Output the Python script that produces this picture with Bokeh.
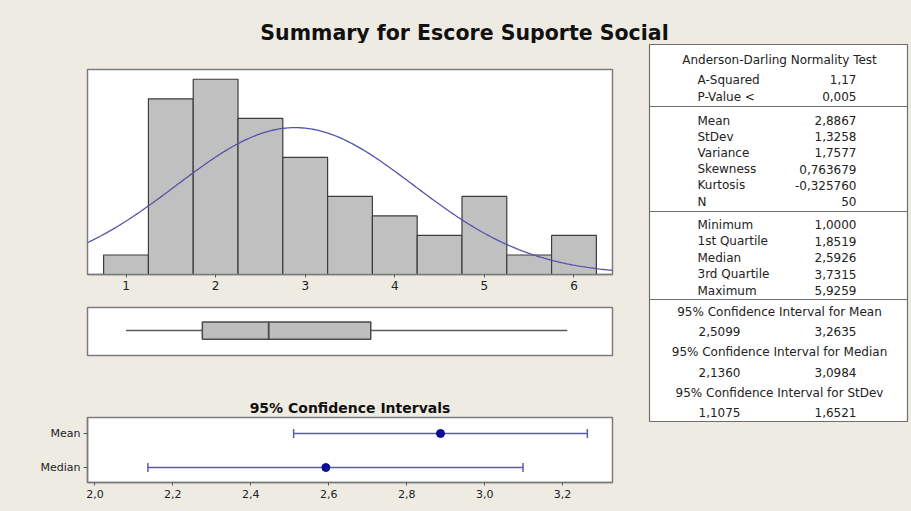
import numpy as np
from bokeh.plotting import figure
from bokeh.layouts import column, row
from bokeh.models import (Range1d, FixedTicker, CustomJSTickFormatter, ColumnDataSource,
                          Whisker, TeeHead, Span)
from bokeh.embed import file_html
from bokeh.resources import INLINE
from bokeh.core.properties import value

# ---------------- data ----------------
title_text = "Summary for Escore Suporte Social"
bin_centers = [1.0, 1.5, 2.0, 2.5, 3.0, 3.5, 4.0, 4.5, 5.0, 5.5, 6.0]
bin_counts = [1, 9, 10, 8, 6, 4, 3, 2, 4, 1, 2]
bin_width = 0.5
hist_ticks = [1, 2, 3, 4, 5, 6]

n_obs = 50
mean_val = 2.8867
sd_val = 1.3258
minimum = 1.0
q1 = 1.8519
median_val = 2.5926
q3 = 3.7315
maximum = 5.9259

ad_title = "Anderson-Darling Normality Test"
ad_labels = ["A-Squared", "P-Value <"]
ad_values = [1.17, 0.005]
ad_decimals = [2, 3]

moment_labels = ["Mean", "StDev", "Variance", "Skewness", "Kurtosis", "N"]
moment_values = [2.8867, 1.3258, 1.7577, 0.763679, -0.325760, 50]
moment_decimals = [4, 4, 4, 6, 6, 0]

quant_labels = ["Minimum", "1st Quartile", "Median", "3rd Quartile", "Maximum"]
quant_values = [minimum, q1, median_val, q3, maximum]

ci_titles = ["95% Confidence Interval for Mean",
             "95% Confidence Interval for Median",
             "95% Confidence Interval for StDev"]
ci_lower = [2.5099, 2.1360, 1.1075]
ci_upper = [3.2635, 3.0984, 1.6521]

ci_plot_title = "95% Confidence Intervals"
ci_plot_labels = ["Mean", "Median"]
ci_plot_points = [mean_val, median_val]
ci_ticks = [2.0, 2.2, 2.4, 2.6, 2.8, 3.0, 3.2]

# ---------------- styles ----------------
BG = "#EEEBE2"
FRAME = "#7c7c7c"
BAR_FILL = "#C0C0C0"
BAR_LINE = "#3c3c3c"
CURVE = "#5353AA"
CI_LINE = "#5B5BA8"
CI_DOT = "#0A0A96"
TXT = "#222222"
FONT = "DejaVu Sans"
CSS_BG = {"background-color": BG}


def fmt(v, d):
    return f"{v:.{d}f}".replace(".", ",")


def blank(fig):
    fig.xgrid.visible = False
    fig.ygrid.visible = False
    fig.background_fill_color = "white"
    fig.border_fill_color = BG
    fig.outline_line_color = FRAME
    fig.outline_line_width = 1.5
    fig.styles = CSS_BG


def style_axis(ax, size):
    ax.axis_line_color = FRAME
    ax.axis_line_width = 1.5
    ax.major_tick_line_color = "#555555"
    ax.major_tick_in = 0
    ax.major_tick_out = 3
    ax.minor_tick_line_color = None
    ax.major_label_text_font = FONT
    ax.major_label_text_font_size = size
    ax.major_label_text_color = TXT
    ax.major_label_standoff = 3


x_lo, x_hi = 0.57, 6.43

# ---------------- title ----------------
tf = figure(width=911, height=43, x_range=Range1d(0, 911), y_range=Range1d(0, 43),
            x_axis_type=None, y_axis_type=None, min_border=0,
            output_backend="svg", toolbar_location=None)
tf.xgrid.visible = False
tf.ygrid.visible = False
tf.background_fill_color = BG
tf.border_fill_color = BG
tf.outline_line_color = None
tf.styles = CSS_BG
tf.text(x=[464], y=[11], text=[title_text], text_align="center", text_baseline="middle",
        text_font=value(FONT), text_font_style="bold", text_font_size="20.5px", text_color="#111111")

# ---------------- histogram ----------------
hist = figure(width=640, height=254, x_range=Range1d(x_lo, x_hi), y_range=Range1d(0, 10.5),
              y_axis_type=None, min_border_left=87, min_border_right=28,
              min_border_top=26, min_border_bottom=23,
              output_backend="svg", toolbar_location=None)
blank(hist)
lefts = [c - bin_width / 2 for c in bin_centers]
rights = [c + bin_width / 2 for c in bin_centers]
hist.quad(left=lefts, right=rights, bottom=0, top=bin_counts,
          fill_color=BAR_FILL, line_color=BAR_LINE, line_width=1.2)
xs = np.linspace(x_lo, x_hi, 300)
ys = n_obs * bin_width * np.exp(-0.5 * ((xs - mean_val) / sd_val) ** 2) / (sd_val * np.sqrt(2 * np.pi))
hist.line(xs, ys, line_color=CURVE, line_width=1.3)
hist.xaxis.ticker = FixedTicker(ticks=hist_ticks)
style_axis(hist.xaxis[0], "12px")

# ---------------- box plot ----------------
box = figure(width=640, height=93, x_range=hist.x_range, y_range=Range1d(-0.52, 0.48),
             x_axis_type=None, y_axis_type=None, min_border_left=87, min_border_right=28,
             min_border_top=10, min_border_bottom=35,
             output_backend="svg", toolbar_location=None)
blank(box)
box.segment(x0=[minimum, q3], y0=[0, 0], x1=[q1, maximum], y1=[0, 0],
            line_color="#5a5a5a", line_width=1.5)
box.quad(left=[q1], right=[q3], bottom=[-0.18], top=[0.18],
         fill_color="#BEBEBE", line_color="#4a4a4a", line_width=1.5)
box.segment(x0=[median_val], y0=[-0.18], x1=[median_val], y1=[0.18],
            line_color="#4a4a4a", line_width=1.8)

# ---------------- confidence intervals ----------------
ci = figure(width=640, height=121, x_range=Range1d(1.981, 3.328), y_range=Range1d(0.56, 2.47),
            min_border_left=87, min_border_right=28, min_border_top=27, min_border_bottom=29,
            output_backend="svg", toolbar_location=None)
blank(ci)
ci.title.text = ci_plot_title
ci.title.align = "center"
ci.title.text_font = FONT
ci.title.text_font_size = "14px"
ci.title.text_font_style = "bold"
ci.title.text_color = "#111111"
ci.title.standoff = 3
ci_y = [len(ci_plot_labels) - i for i in range(len(ci_plot_labels))]
src = ColumnDataSource(dict(base=ci_y, lower=ci_lower[:2], upper=ci_upper[:2]))
ci.add_layout(Whisker(base="base", lower="lower", upper="upper", dimension="width", source=src,
                      line_color=CI_LINE, line_width=1.5,
                      upper_head=TeeHead(size=9, line_color=CI_LINE, line_width=1.5),
                      lower_head=TeeHead(size=9, line_color=CI_LINE, line_width=1.5)))
ci.scatter(x=ci_plot_points, y=ci_y, size=8, color=CI_DOT)
ci.xaxis.ticker = FixedTicker(ticks=ci_ticks)
ci.xaxis.formatter = CustomJSTickFormatter(code="return tick.toFixed(1).replace('.', ',')")
style_axis(ci.xaxis[0], "11px")
ci.yaxis.ticker = FixedTicker(ticks=ci_y)
ci.yaxis.formatter = CustomJSTickFormatter(args=dict(labels=ci_plot_labels),
                                           code="return labels[labels.length - Math.round(tick)]")
style_axis(ci.yaxis[0], "11px")
ci.yaxis.major_tick_out = 4
ci.xaxis.major_label_standoff = 4

# ---------------- statistics table ----------------
tb = figure(width=271, height=468, x_range=Range1d(0, 258), y_range=Range1d(377, 0),
            x_axis_type=None, y_axis_type=None,
            min_border_left=9, min_border_right=4, min_border_top=1, min_border_bottom=90,
            output_backend="svg", toolbar_location=None)
blank(tb)
tb.outline_line_width = 1.2
tb.outline_line_color = "#6e6e6e"

LAB_X, VAL_X, MID_X = 48, 207, 130
tkw = dict(text_font=value(FONT), text_font_size="12px", text_color=TXT, text_baseline="middle")

rows_lab, rows_val, rows_y = [], [], []
for i, (l, v, d) in enumerate(zip(ad_labels, ad_values, ad_decimals)):
    rows_lab.append(l); rows_val.append(fmt(v, d)); rows_y.append(35 + 17 * i)
for i, (l, v, d) in enumerate(zip(moment_labels, moment_values, moment_decimals)):
    rows_lab.append(l); rows_val.append(fmt(v, d)); rows_y.append(76 + 16.2 * i)
for i, (l, v) in enumerate(zip(quant_labels, quant_values)):
    rows_lab.append(l); rows_val.append(fmt(v, 4)); rows_y.append(180 + 16.5 * i)

tb.text(x=[LAB_X] * len(rows_lab), y=rows_y, text=rows_lab, text_align="left", **tkw)
tb.text(x=[VAL_X] * len(rows_val), y=rows_y, text=rows_val, text_align="right", **tkw)

center_txt = [ad_title] + ci_titles
center_y = [15] + [267 + 40.5 * i for i in range(len(ci_titles))]
tb.text(x=[MID_X] * len(center_txt), y=center_y, text=center_txt, text_align="center", **tkw)

ci_vy = [287 + 40.5 * i for i in range(len(ci_titles))]
tb.text(x=[LAB_X + 1] * len(ci_lower), y=ci_vy, text=[fmt(v, 4) for v in ci_lower],
        text_align="left", **tkw)
tb.text(x=[VAL_X] * len(ci_upper), y=ci_vy, text=[fmt(v, 4) for v in ci_upper],
        text_align="right", **tkw)

for yy in (62, 167, 255):
    tb.add_layout(Span(location=yy, dimension="width", line_color="#6e6e6e", line_width=1.2))

# ---------------- layout ----------------
left_col = column(hist, box, ci, styles=CSS_BG)
body_row = row(left_col, tb, styles=CSS_BG)
p = column(tf, body_row, styles=CSS_BG)

html = file_html(p, INLINE)
html = html.replace("<body>", f'<body style="background-color:{BG};overflow:hidden;">', 1)
open("out.html", "w").write(html)
